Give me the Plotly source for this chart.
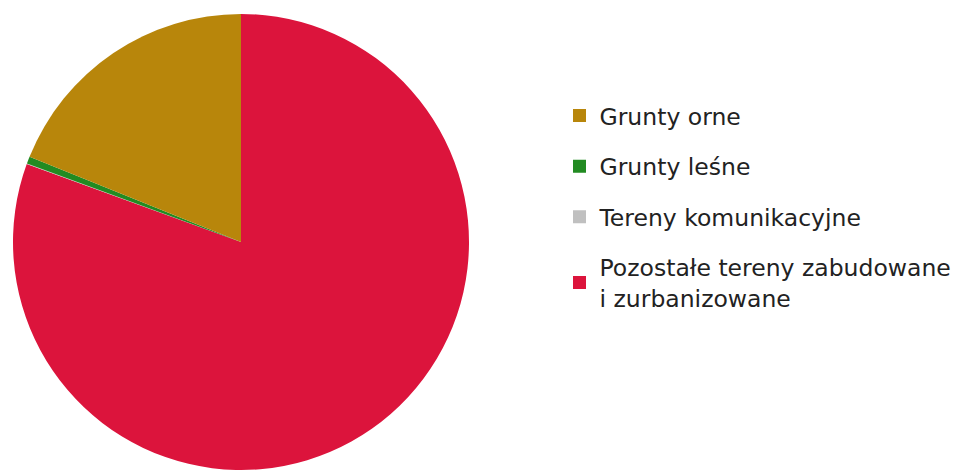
import plotly.graph_objects as go

labels = ["Grunty orne", "Grunty leśne", "Tereny komunikacyjne",
          "Pozostałe tereny zabudowane<br>i zurbanizowane"]
values = [18.9, 0.5, 0.05, 80.55]
colors = ["#B8860B", "#228B22", "#C0C0C0", "#DC143C"]

fig = go.Figure()
# slices laid out counterclockwise from 12 o'clock in data order
fig.add_trace(go.Pie(
    labels=labels[::-1], values=values[::-1], sort=False, direction="clockwise",
    rotation=0, marker=dict(colors=colors[::-1], line=dict(width=0)),
    textinfo="none", showlegend=False, hoverinfo="label+percent",
    domain=dict(x=[0, 482/963], y=[0, 1]),
))
for i, (lab, col) in enumerate(zip(labels, colors)):
    fig.add_trace(go.Scatter(
        x=[None], y=[None], mode="markers", name=lab, legendgroup=str(i),
        marker=dict(symbol="square", size=13, color=col),
    ))

fig.update_layout(
    width=963, height=470,
    margin=dict(l=0, r=0, t=14, b=0),
    paper_bgcolor="white", plot_bgcolor="white",
    xaxis=dict(visible=False), yaxis=dict(visible=False),
    legend=dict(x=0.581, y=0.825, xanchor="left", yanchor="top",
                font=dict(family="DejaVu Sans", size=23.5, color="#222222"),
                tracegroupgap=17, bgcolor="rgba(0,0,0,0)"),
)
fig.write_html("out.html")
